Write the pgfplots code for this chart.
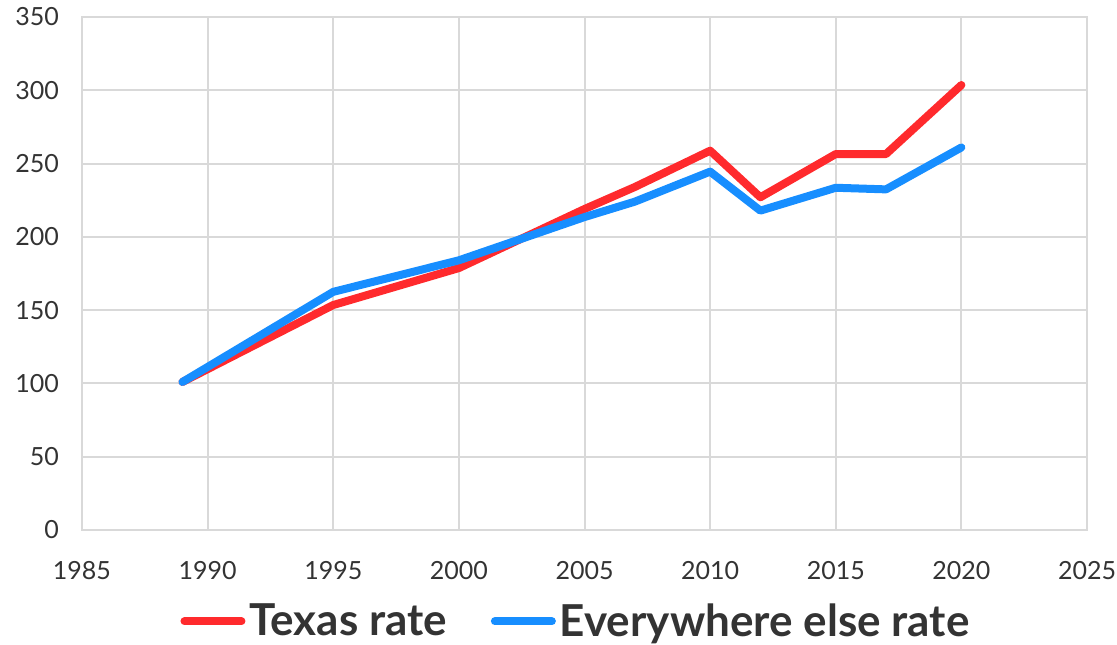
\documentclass[border=0pt]{standalone}
\usepackage{pgfplots}
\pgfplotsset{compat=1.18}
\usepackage{fontspec}
\setmainfont{Lato}
\definecolor{txred}{HTML}{FF2A2D}
\definecolor{evblue}{HTML}{178EFF}
\definecolor{txt}{HTML}{333333}
\definecolor{gridc}{HTML}{D9D9D9}
\begin{document}
\begin{tikzpicture}
\useasboundingbox (-41pt,-57pt) rectangle (517.5pt,265pt);
\begin{axis}[
  at={(0,0)}, anchor=south west,
  scale only axis, width=502.5pt, height=256.5pt,
  xmin=1985, xmax=2025, ymin=0, ymax=350,
  xtick={1985,1990,...,2025}, ytick={0,50,...,350},
  grid=major, major grid style={gridc, line width=1pt},
  axis line style={gridc, line width=1.2pt},
  tick style={draw=none},
  /pgf/number format/assume math mode=true,
  xticklabel style={/pgf/number format/1000 sep={}},
  ticklabel style={font=\fontsize{12.5}{14}\selectfont, text=txt},
  xticklabel style={yshift=-12pt},
  yticklabel style={xshift=-8pt},
  legend columns=2,
  legend style={draw=none, fill=none, inner sep=0pt, at={(axis description cs:0.4925,-0.178)}, anchor=center,
    font=\fontsize{22}{24}\selectfont\bfseries, text=txt,
    /tikz/every even column/.append style={column sep=20pt}},
  legend image code/.code={\draw[#1, line cap=round] (0pt,0pt) -- (28.5pt,0pt);},
]
\addplot[txred, line width=4pt, line cap=round, line join=round] coordinates {
(1989,101) (1995,153.5) (2000,178.7) (2005,219) (2007,234) (2010,258.8) (2012,227) (2015,256.5) (2017,256.5) (2020,303.6)};
\addlegendentry{Texas rate}
\addplot[evblue, line width=4pt, line cap=round, line join=round] coordinates {
(1989,101) (1995,162.5) (2000,184) (2005,213.5) (2007,224) (2010,244.5) (2012,217.9) (2015,233.5) (2017,232.4) (2020,261)};
\addlegendentry{Everywhere else rate}
\end{axis}
\end{tikzpicture}
\end{document}
